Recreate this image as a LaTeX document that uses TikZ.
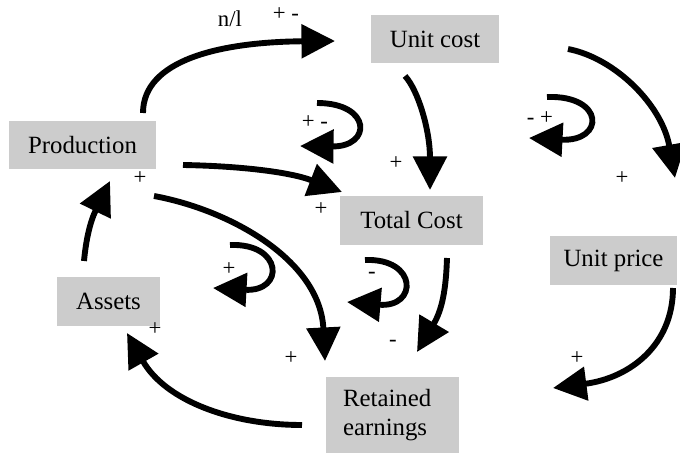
\documentclass[tikz,border=0pt]{standalone}
\usepackage{fontspec}
\setmainfont{Liberation Serif}
\usetikzlibrary{arrows.meta}

\begin{document}
\begin{tikzpicture}[x=0.017cm,y=-0.017cm,
    box/.style={fill=black!20,inner sep=0pt,align=center,font=\rmfamily\fontsize{12}{14}\selectfont},
    sgn/.style={inner sep=0pt,font=\rmfamily\fontsize{11}{13}\selectfont},
    arr/.style={line width=0.1cm,-{Triangle[length=0.57cm,width=0.56cm]}}]
      \useasboundingbox (0,0) rectangle (680,454);
      \draw
        (82.5,145) node[box,minimum width=2.5cm,minimum height=0.82cm] (prod){Production}
        (435,39) node[box,minimum width=2.18cm,minimum height=0.82cm] (ucost){Unit cost}
        (411.5,220.5) node[box,minimum width=2.43cm,minimum height=0.83cm] (tcost){Total Cost}
        (613.5,260.5) node[box,minimum width=2.16cm,minimum height=0.83cm] (uprice){Unit price}
        (108.5,301.5) node[box,minimum width=1.75cm,minimum height=0.83cm] (assets){Assets}
        (392.5,415) node[box,align=left,inner xsep=0.29cm,text width=1.68cm,minimum height=1.29cm] (earn){Retained\\earnings};
      % free ends of the arrows
      \coordinate (s1) at (143,113);  \coordinate (e1) at (335,41);
      \coordinate (s2) at (405,76);   \coordinate (e2) at (430,190);
      \coordinate (s3) at (568,49);   \coordinate (e3) at (675,178);
      \coordinate (s4) at (183,165);  \coordinate (e4) at (342,192);
      \coordinate (s5) at (154,196);  \coordinate (e5) at (325,361);
      \coordinate (s6) at (84,261);   \coordinate (e6) at (110,181);
      \coordinate (s7) at (302,425);  \coordinate (e7) at (127,333);
      \coordinate (s8) at (447,258);  \coordinate (e8) at (417,352);
      \coordinate (s9) at (673,288);  \coordinate (e9) at (553,388);
      \coordinate (l1) at (317,103);  \coordinate (m1) at (300,146);
      \coordinate (l2) at (547,97);   \coordinate (m2) at (529,138);
      \coordinate (l3) at (230,245);  \coordinate (m3) at (213,288);
      \coordinate (l4) at (365,260);  \coordinate (m4) at (347,302);
      \begin{scope}[arr]
        \draw (s1) .. controls (143,60) and (220,42) .. (e1);
        \draw (s2) .. controls (418,90) and (430,130) .. (e2);
        \draw (s3) .. controls (615,58) and (662,105) .. (e3);
        \draw (s4) .. controls (240,166) and (290,172) .. (e4);
        \draw (s5) .. controls (230,210) and (320,260) .. (e5);
        \draw (s6) .. controls (86,240) and (90,222) .. (e6);
        \draw (s7) .. controls (230,425) and (165,400) .. (e7);
        \draw (s8) .. controls (446,290) and (442,310) .. (e8);
        \draw (s9) .. controls (673,345) and (630,378) .. (e9);
        \draw (l1) .. controls (372,103) and (372,147) .. (m1);
        \draw (l2) .. controls (605,95) and (605,142) .. (m2);
        \draw (l3) .. controls (283,243) and (285,292) .. (m3);
        \draw (l4) .. controls (418,258) and (418,308) .. (m4);
      \end{scope}
      % signs
      \node[sgn] (nl) at (230,19) {n/l};
      \node[sgn] (t1) at (286,14) {+ -};
      \node[sgn] (t2) at (315,122) {+ -};
      \node[sgn] (t3) at (540,118) {- +};
      \node[sgn] (t4) at (140,178) {+};
      \node[sgn] (t5) at (321,209) {+};
      \node[sgn] (t6) at (396,163) {+};
      \node[sgn] (t7) at (622,178) {+};
      \node[sgn] (t8) at (229,269) {+};
      \node[sgn] (t9) at (155,329) {+};
      \node[sgn] (t10) at (291,358) {+};
      \node[sgn] (t11) at (577,358) {+};
      \node[sgn] (t12) at (372,275) {-};
      \node[sgn] (t13) at (393,343) {-};
    \end{tikzpicture}
\end{document}
